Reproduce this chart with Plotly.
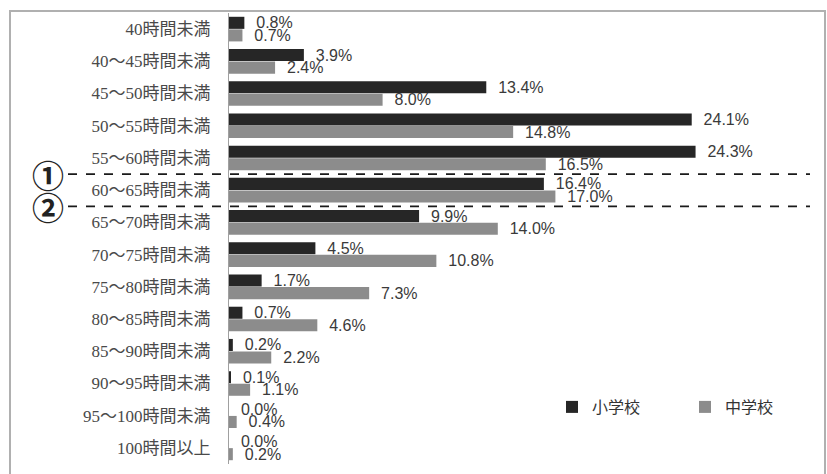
import plotly.graph_objects as go

categories = ["40時間未満", "40～45時間未満", "45～50時間未満", "50～55時間未満", "55～60時間未満",
              "60～65時間未満", "65～70時間未満", "70～75時間未満", "75～80時間未満", "80～85時間未満",
              "85～90時間未満", "90～95時間未満", "95～100時間未満", "100時間以上"]
elementary = [0.8, 3.9, 13.4, 24.1, 24.3, 16.4, 9.9, 4.5, 1.7, 0.7, 0.2, 0.1, 0.0, 0.0]
junior = [0.7, 2.4, 8.0, 14.8, 16.5, 17.0, 14.0, 10.8, 7.3, 4.6, 2.2, 1.1, 0.4, 0.2]
series_names = ["小学校", "中学校"]
marker_labels = ["①", "②"]
marker_positions = [4.5, 5.5]

W, H = 827, 474
L, R, T, B = 229, 22, 13, 10
pw, ph = W - L - R, H - T - B

def px_x(p):
    return (p - L) / pw

def px_y(p):
    return (H - B - p) / ph

label_font = dict(family="Liberation Sans, Arial, sans-serif", size=16, color="#3a3a3a")

fig = go.Figure()
fig.add_trace(go.Bar(
    y=categories, x=elementary, orientation="h", name=series_names[0],
    marker=dict(color="#262626", line=dict(width=0)),
    text=[f"\u00a0\u00a0{v:.1f}%" for v in elementary], textposition="outside",
    textfont=label_font, cliponaxis=False, constraintext="none", legend="legend",
))
fig.add_trace(go.Bar(
    y=categories, x=junior, orientation="h", name=series_names[1],
    marker=dict(color="#8c8c8c", line=dict(width=0)),
    text=[f"\u00a0\u00a0{v:.1f}%" for v in junior], textposition="outside",
    textfont=label_font, cliponaxis=False, constraintext="none", legend="legend2",
))

shapes = [
    dict(type="rect", xref="paper", yref="paper",
         x0=px_x(10), x1=px_x(825), y0=px_y(478), y1=px_y(11),
         line=dict(color="#b0b0b0", width=2), fillcolor="rgba(0,0,0,0)", layer="below"),
]
for yp in marker_positions:
    shapes.append(dict(type="line", xref="paper", yref="y",
                       x0=px_x(68), x1=px_x(810), y0=yp, y1=yp,
                       line=dict(color="#1a1a1a", width=1.8, dash="dash")))

annotations = []
for lab, yp in zip(marker_labels, marker_positions):
    annotations.append(dict(text=f"<b>{lab}</b>", xref="paper", yref="y", x=px_x(48), y=yp,
                            showarrow=False, xanchor="center", yanchor="middle",
                            font=dict(family="Noto Sans CJK JP", size=32, color="#222")))

legend_font = dict(family="Noto Sans CJK JP", size=16, color="#333")
fig.update_layout(
    width=W, height=H,
    margin=dict(l=L, r=R, t=T, b=B, autoexpand=False),
    paper_bgcolor="white", plot_bgcolor="white",
    barmode="group", bargap=0.22, bargroupgap=0.04,
    shapes=shapes, annotations=annotations,
    showlegend=True,
    legend=dict(x=px_x(552), y=px_y(407), xanchor="left", yanchor="middle",
                font=legend_font, bgcolor="rgba(0,0,0,0)", itemclick=False, itemwidth=30),
    legend2=dict(x=px_x(685), y=px_y(407), xanchor="left", yanchor="middle",
                 font=legend_font, bgcolor="rgba(0,0,0,0)", itemclick=False, itemwidth=30),
    xaxis=dict(range=[0, 30], visible=False, fixedrange=True),
    yaxis=dict(autorange="reversed", showline=True, linecolor="#a0a0a0", linewidth=1,
               ticks="", showgrid=False, ticklabelstandoff=14,
               tickfont=dict(family="Liberation Serif, Noto Sans CJK JP", size=17, color="#4a4a4a")),
)

fig.write_html("out.html")
